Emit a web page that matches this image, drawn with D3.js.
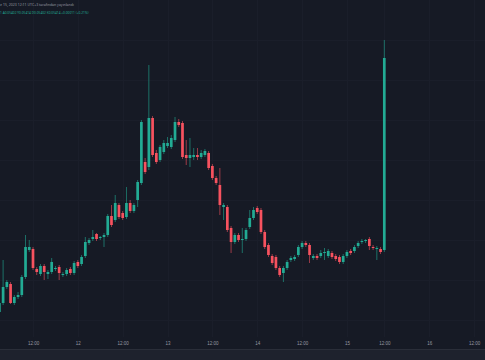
<!DOCTYPE html>
<html>
<head>
<meta charset="utf-8">
<script src="https://cdn.jsdelivr.net/npm/d3@7"></script>
<style>
  html, body { margin: 0; padding: 0; background: #161a25; }
  svg { display: block; font-family: "Noto Sans", "DejaVu Sans", sans-serif; }
</style>
</head>
<body>
<div id="main"></div>
<script>
// Width and height of the SVG object
const w = 485;
const h = 360;

// hourly candles, first one is 9 hours before 11th 12:00
const firstIndex = -9;
const opens = [88, 97, 113, 116, 97, 103, 105, 123, 150, 151, 131, 126, 134, 126, 128, 131, 133, 126, 126, 131,
  127, 138, 136, 144, 157, 161, 166, 162, 163, 165, 184, 180, 195, 187, 183, 197, 189, 200, 217, 238,
  233, 282, 247, 240, 248, 254, 253, 260, 278, 277, 245, 242, 243, 245, 243, 245, 247, 234, 222, 215,
  193, 193, 172, 158, 165, 160, 161, 173, 182, 192, 190, 168, 155, 144, 143, 132, 127, 132, 140, 141,
  145, 153, 157, 155, 142, 144, 144, 147, 144, 147, 144, 143, 138, 144, 149, 149, 154, 158, 159, 161,
  153, 152, 151, 150];
const highs = [100, 140, 120, 118, 105, 108, 125, 165, 160, 153, 133, 136, 136, 130, 142, 134, 135, 128, 132, 133,
  139, 140, 145, 163, 162, 170, 167, 164, 167, 186, 195, 205, 197, 189, 213, 200, 197, 220, 280, 242,
  335, 284, 250, 255, 260, 263, 265, 283, 281, 279, 260, 262, 252, 252, 250, 251, 249, 236, 224, 232,
  197, 195, 174, 167, 167, 172, 172, 190, 193, 194, 192, 170, 157, 146, 145, 134, 134, 140, 144, 145,
  155, 159, 159, 157, 146, 146, 150, 152, 151, 149, 146, 145, 146, 150, 151, 155, 159, 161, 161, 163,
  155, 154, 153, 360];
const lows = [84, 95, 111, 96, 95, 101, 103, 121, 148, 130, 125, 124, 120, 121, 126, 129, 120, 123, 124, 125,
  125, 132, 134, 142, 155, 159, 159, 160, 153, 163, 173, 178, 181, 180, 181, 187, 187, 193, 215, 226,
  230, 243, 236, 238, 246, 252, 251, 258, 273, 241, 235, 233, 240, 240, 241, 243, 230, 220, 215, 185,
  180, 168, 147, 156, 158, 147, 159, 171, 180, 186, 166, 151, 143, 135, 130, 123, 118, 130, 138, 139,
  143, 151, 153, 137, 140, 140, 142, 140, 142, 141, 139, 136, 136, 142, 145, 147, 152, 156, 157, 150,
  150, 140, 146, 148];
const closes = [97, 113, 118, 97, 103, 105, 123, 153, 153, 132, 128, 134, 128, 128, 138, 132, 127, 126, 130, 127,
  137, 134, 143, 158, 160, 163, 161, 163, 165, 184, 175, 197, 183, 182, 197, 189, 195, 218, 278, 228,
  282, 245, 238, 253, 257, 257, 262, 278, 275, 243, 242, 245, 245, 243, 247, 249, 232, 222, 217, 195,
  195, 170, 158, 165, 160, 161, 170, 182, 190, 188, 168, 153, 145, 137, 132, 125, 132, 138, 142, 143,
  153, 157, 155, 145, 144, 142, 147, 148, 149, 143, 141, 138, 144, 148, 147, 153, 157, 159, 160, 154,
  152, 152, 148, 342];

// time axis labels and the candle index they sit on
const tickIndex = [0, 12, 24, 36, 48, 60, 72, 84, 94, 106, 118];
const tickLabels = ['12:00', '12', '12:00', '13', '12:00', '14', '12:00', '15', '12:00', '16', '12:00'];

// header texts
const headerLine = 'e 15, 2023 12:11 UTC+3 tarafından yayınlandı';
const ohlcLine = '1  A0.05402  Y0.05414  D0.05402  K0.05414  +0.00011 (+0.21%)';

const up = '#22ab94';
const down = '#f7525f';

const candles = opens.map((o, k) => ({
  i: firstIndex + k, o: o, h: highs[k], l: lows[k], c: closes[k]
}));

const x = d3.scaleLinear().domain([0, 118]).range([33, 474]);
const y = d3.scaleLinear().domain([40, 400]).range([360, 0]);

//Make an SVG Container
const svg = d3.select('div#main')
  .append('svg')
  .attr('width', w)
  .attr('height', h);

svg.append('rect')
  .attr('width', w)
  .attr('height', h)
  .attr('fill', '#161a25');

// horizontal grid
svg.append('g')
  .selectAll('line')
  .data(d3.range(80, 400, 40))
  .join('line')
  .attr('x1', 0)
  .attr('x2', w)
  .attr('y1', d => Math.round(y(d)) + 0.5)
  .attr('y2', d => Math.round(y(d)) + 0.5)
  .attr('stroke', '#1a1e2a')
  .attr('stroke-width', 1);

// vertical grid
svg.append('g')
  .selectAll('line')
  .data(tickIndex)
  .join('line')
  .attr('x1', d => Math.round(x(d)) + 0.5)
  .attr('x2', d => Math.round(x(d)) + 0.5)
  .attr('y1', 0)
  .attr('y2', 337)
  .attr('stroke', '#1a1e2a')
  .attr('stroke-width', 1);

// wicks
svg.append('g')
  .selectAll('line')
  .data(candles)
  .join('line')
  .attr('x1', d => x(d.i))
  .attr('x2', d => x(d.i))
  .attr('y1', d => y(d.h))
  .attr('y2', d => y(d.l))
  .attr('stroke', d => (d.c >= d.o ? up : down))
  .attr('stroke-width', 0.8)
  .attr('opacity', 0.75);

// bodies
const bw = 2.7;
svg.append('g')
  .selectAll('rect')
  .data(candles)
  .join('rect')
  .attr('x', d => x(d.i) - bw / 2)
  .attr('y', d => y(Math.max(d.o, d.c)))
  .attr('width', bw)
  .attr('height', d => Math.max(1, Math.abs(y(d.o) - y(d.c))))
  .attr('fill', d => (d.c >= d.o ? up : down));

// time axis
const axis = svg.append('g')
  .attr('transform', 'translate(0,349)')
  .call(d3.axisBottom(x).tickValues(tickIndex).tickFormat((d, k) => tickLabels[k]).tickSize(0));
axis.select('.domain').remove();
axis.selectAll('text')
  .attr('y', -5)
  .attr('dy', '0.32em')
  .attr('fill', '#9598a1')
  .style('font-size', '4.5px');

// bottom strip
svg.append('rect')
  .attr('x', 0)
  .attr('y', 349)
  .attr('width', w)
  .attr('height', h - 349)
  .attr('fill', '#1e222d');
svg.append('line')
  .attr('x1', 0)
  .attr('x2', w)
  .attr('y1', 349.5)
  .attr('y2', 349.5)
  .attr('stroke', '#2a2e39');

// header
svg.append('text')
  .attr('x', 0)
  .attr('y', 6)
  .attr('fill', '#9598a1')
  .style('font-size', '3.5px')
  .text(headerLine);
svg.append('text')
  .attr('x', 0)
  .attr('y', 14)
  .attr('fill', up)
  .style('font-size', '3.2px')
  .text(ohlcLine);
</script>
</body>
</html>
